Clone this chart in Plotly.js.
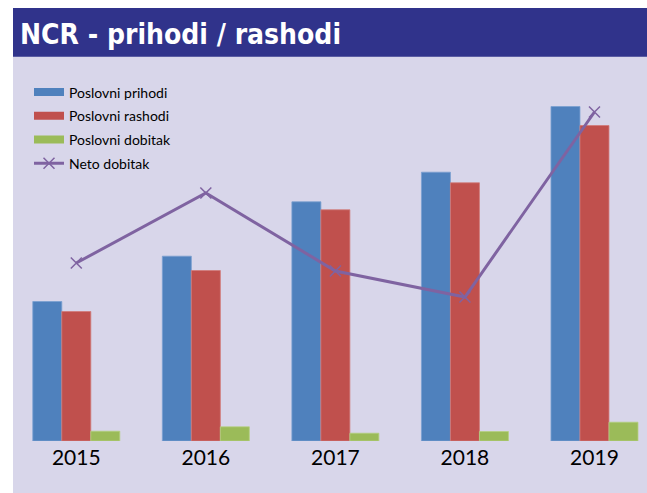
<!DOCTYPE html>
<html>
<head>
<meta charset="utf-8">
<script src="https://cdn.plot.ly/plotly-3.0.1.min.js"></script>
<style>
html,body{margin:0;padding:0;background:#ffffff;}
#chart{position:absolute;left:13px;top:8px;width:634px;height:485px;}
</style>
</head>
<body>
<div id="chart"></div>
<script>
// Data
var years = ['2015', '2016', '2017', '2018', '2019'];
var poslovniPrihodi = [1395, 1848, 2392, 2688, 3345];
var poslovniRashodi = [1295, 1705, 2312, 2582, 3155];
var poslovniDobitak = [98, 142, 78, 95, 188];
var netoDobitak = [178, 248, 170, 144, 329];
var seriesNames = ['Poslovni prihodi', 'Poslovni rashodi', 'Poslovni dobitak', 'Neto dobitak'];
var seriesColors = ['#4f81bd', '#c0504d', '#9bbb59', '#7f63a1'];
var edgeColors = ['#7a9fd0', '#d07a78', '#b5cf82'];

var W = 634, H = 485, MT = 60, MB = 52;
var plotH = H - MT - MB;
function paperY(py){ return (H - MB - py) / plotH; }

var barData = [poslovniPrihodi, poslovniRashodi, poslovniDobitak];
var traces = [];
barData.forEach(function(vals, i){
  traces.push({type:'bar', name:seriesNames[i], x:years, y:vals, legendgroup:'g'+i, showlegend:false,
    marker:{color:seriesColors[i], line:{color:edgeColors[i], width:0.8}}});
});
// legend entries for bar series (wide swatches like the original)
barData.forEach(function(vals, i){
  traces.push({type:'scatter', mode:'lines', name:seriesNames[i], x:[null], y:[null], legendgroup:'g'+i,
    hoverinfo:'skip', line:{color:seriesColors[i], width:8}});
});
traces.push({type:'scatter', mode:'lines+markers', name:seriesNames[3], x:years, y:netoDobitak,
   yaxis:'y2', legendgroup:'g3', line:{color:seriesColors[3], width:3},
   marker:{symbol:'x-thin-open', size:11, color:seriesColors[3], line:{color:seriesColors[3], width:1.5}}});

var layout = {
  width: W, height: H,
  margin: {l:0, r:0, t:MT, b:MB, pad:0},
  paper_bgcolor: '#d8d6ea',
  plot_bgcolor: 'rgba(0,0,0,0)',
  barmode: 'group',
  bargap: 0.3284,
  bargroupgap: 0,
  font: {family:'Lato, "Open Sans", sans-serif', color:'#000000'},
  title: {
    text: 'NCR - prihodi / rashodi',
    font: {family:'"Liberation Sans Narrow", "DejaVu Sans Condensed", sans-serif', size:28, color:'#ffffff', weight:'bold'},
    xref:'container', x: 7/W, xanchor:'left',
    yref:'container', y: 1 - 26.5/H, yanchor:'middle'
  },
  xaxis: {
    type:'category', range:[-0.4886, 4.4054], showgrid:false, zeroline:false,
    showline:false, ticks:'', ticklabelstandoff:2,
    tickfont:{family:'Lato, sans-serif', size:21, color:'#000000'}
  },
  yaxis: {range:[0, 3730], showgrid:false, zeroline:false, showline:false, showticklabels:false, ticks:''},
  yaxis2: {range:[0, 373], overlaying:'y', side:'right', showgrid:false, zeroline:false, showline:false, showticklabels:false, ticks:''},
  showlegend: true,
  legend: {
    x: 16/W, xanchor:'left', y: paperY(68.5), yanchor:'top',
    bgcolor:'rgba(0,0,0,0)', font:{family:'Lato, sans-serif', size:14, color:'#000000'},
    traceorder:'grouped', tracegroupgap:2.5, itemwidth:30
  },
  shapes: [
    {type:'rect', xref:'paper', yref:'paper', x0:0, x1:1, y0:paperY(48.7), y1:paperY(0),
     fillcolor:'#30338b', line:{width:0}, layer:'below'}
  ]
};

Plotly.newPlot('chart', traces, layout, {displayModeBar:false, staticPlot:true});
</script>
</body>
</html>
